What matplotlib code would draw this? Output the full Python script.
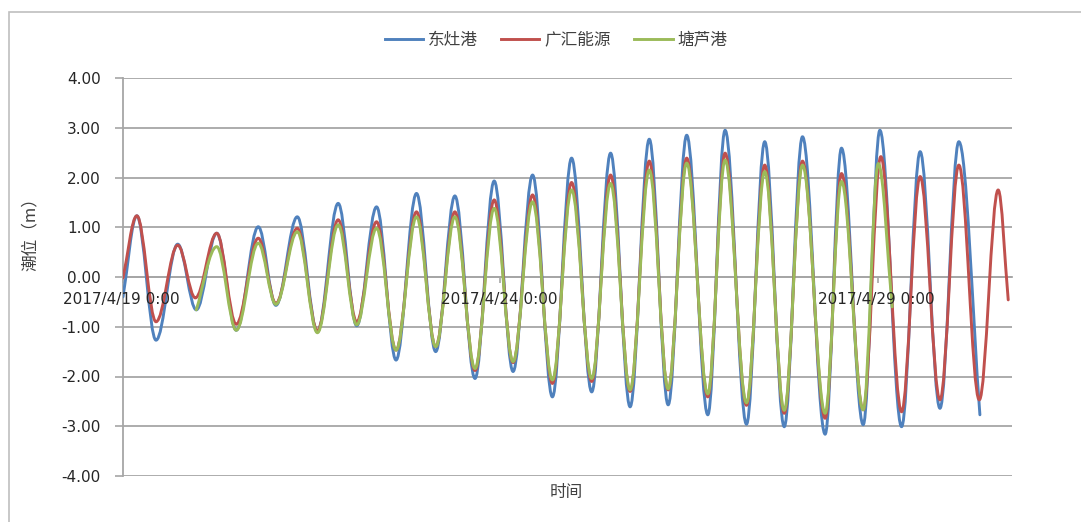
import matplotlib
matplotlib.use("Agg")
import matplotlib.pyplot as plt
from matplotlib.path import Path
from matplotlib.patches import PathPatch, Rectangle
from matplotlib.lines import Line2D
from matplotlib.font_manager import FontProperties

plt.rcParams['font.family'] = ['DejaVu Sans', 'Noto Sans CJK SC']
plt.rcParams['axes.unicode_minus'] = False

# ---------------- data (hours since 2017/4/19 0:00, tide level in m) -------------
series_names = ["东灶港", "广汇能源", "塘芦港"]

# 东灶港 : turning points (high / low water)
dz_t = [0.0, 4.4, 10.5, 17.4, 23.3, 29.8, 36.0, 43.0, 48.6, 55.4, 61.8, 68.4, 74.3,
        80.6, 86.8, 93.3, 99.4, 105.5, 111.9, 118.0, 124.0, 130.2, 136.5, 142.6,
        149.0, 155.0, 161.2, 167.3, 173.3, 179.2, 185.9, 191.4, 198.2, 204.0,
        210.2, 216.0, 223.2, 228.4, 235.3, 240.6, 247.5, 253.4, 259.7, 265.7, 272.4]
dz_v = [-0.40, 1.23, -1.27, 0.66, -0.66, 0.88, -1.07, 1.01, -0.57, 1.21, -1.10, 1.48,
        -0.98, 1.41, -1.67, 1.68, -1.50, 1.63, -2.04, 1.93, -1.90, 2.05, -2.41, 2.39,
        -2.31, 2.49, -2.61, 2.77, -2.57, 2.85, -2.77, 2.95, -2.96, 2.72, -3.01, 2.82,
        -3.16, 2.59, -2.97, 2.95, -3.01, 2.52, -2.64, 2.72, -2.77]

# 广汇能源
gh_t = [0.0, 4.4, 10.5, 17.4, 23.0, 29.8, 36.0, 43.0, 48.6, 55.4, 61.8, 68.4, 74.3,
        80.6, 86.8, 93.3, 99.4, 105.5, 111.9, 118.0, 124.0, 130.2, 136.5, 142.6,
        149.0, 155.0, 161.2, 167.3, 173.3, 179.2, 185.9, 191.4, 198.2, 204.0,
        210.2, 216.0, 223.2, 228.4, 235.3, 240.9, 247.5, 253.4, 259.7, 265.7,
        272.2, 278.2, 281.4]
gh_v = [-0.02, 1.23, -0.90, 0.64, -0.42, 0.88, -0.95, 0.78, -0.53, 0.98, -1.08, 1.15,
        -0.90, 1.11, -1.47, 1.31, -1.40, 1.31, -1.88, 1.55, -1.72, 1.65, -2.14, 1.90,
        -2.10, 2.05, -2.30, 2.33, -2.27, 2.39, -2.41, 2.49, -2.58, 2.25, -2.74, 2.33,
        -2.84, 2.08, -2.67, 2.42, -2.71, 2.02, -2.47, 2.25, -2.47, 1.75, -0.46]

# 塘芦港
tl_t = [23.3, 29.8, 36.0, 43.0, 48.6, 55.4, 61.8, 68.4, 74.3, 80.6, 86.8, 93.3, 99.4,
        105.5, 111.9, 118.0, 124.0, 130.2, 136.5, 142.6, 149.0, 155.0, 161.2, 167.3,
        173.3, 179.2, 185.9, 191.4, 198.2, 204.0, 210.2, 216.0, 223.2, 228.4, 235.3,
        240.1, 244.5]
tl_v = [-0.66, 0.61, -1.07, 0.68, -0.55, 0.91, -1.12, 1.05, -0.96, 0.98, -1.47, 1.21,
        -1.40, 1.21, -1.84, 1.38, -1.70, 1.51, -2.07, 1.75, -2.04, 1.88, -2.27, 2.15,
        -2.25, 2.29, -2.35, 2.35, -2.53, 2.12, -2.68, 2.25, -2.74, 1.92, -2.67, 2.28,
        -0.60]

x_tick_pos = [0, 120, 240]
x_tick_labels = ["2017/4/19 0:00", "2017/4/24 0:00", "2017/4/29 0:00"]
y_ticks = [-4, -3, -2, -1, 0, 1, 2, 3, 4]
y_tick_labels = ["-4.00", "-3.00", "-2.00", "-1.00", "0.00", "1.00", "2.00", "3.00", "4.00"]

colors = ["#4F81BD", "#C0504D", "#9BBB59"]
GRID = "#A6A6A6"
K = 0.36


def smooth_path(t, v):
    """Smooth line through the turning points (horizontal tangent at each extreme)."""
    verts = [(t[0], v[0])]
    codes = [Path.MOVETO]
    n = len(t)
    for i in range(n - 1):
        dt = t[i + 1] - t[i]
        dv = v[i + 1] - v[i]
        c1 = (t[i] + dt / 3, v[i] + dv / 3) if i == 0 else (t[i] + K * dt, v[i])
        c2 = (t[i + 1] - dt / 3, v[i + 1] - dv / 3) if i == n - 2 else (t[i + 1] - K * dt, v[i + 1])
        verts += [c1, c2, (t[i + 1], v[i + 1])]
        codes += [Path.CURVE4] * 3
    return Path(verts, codes)


fig = plt.figure(figsize=(10.81, 5.22), dpi=100)
W, H = 1081, 522
ax = fig.add_axes([123 / W, 1 - 476 / H, (1012 - 123) / W, (476 - 78) / H])

# outer chart frame
fig.patches.append(Rectangle((9 / W, -0.05), 1.2, 1 - 12 / H + 0.05, transform=fig.transFigure,
                             fill=False, edgecolor="#BFBFBF", lw=1.2))

for (t, v), c in zip([(dz_t, dz_v), (gh_t, gh_v), (tl_t, tl_v)], colors):
    ax.add_patch(PathPatch(smooth_path(t, v), facecolor="none", edgecolor=c, lw=2.1,
                           joinstyle="round", capstyle="round", zorder=3))

ax.set_xlim(0, 282.6)
ax.set_ylim(-4, 4)
ax.set_yticks(y_ticks)
ax.set_yticklabels(y_tick_labels)
ax.set_xticks(x_tick_pos)
ax.set_xticklabels([])

# category labels drawn on top of the series, just under the zero line
for pos, lab in zip(x_tick_pos, x_tick_labels):
    ax.annotate(lab, xy=(pos, 0), xytext=(-1, -16.5), textcoords="offset points",
                ha="center", va="center", fontsize=11, color="#262626", zorder=6,
                annotation_clip=False)

ax.grid(axis="y", color=GRID, lw=1.3)
ax.set_axisbelow(True)
for s in ["top", "right"]:
    ax.spines[s].set_visible(False)
ax.spines["left"].set_color(GRID)
ax.spines["left"].set_linewidth(1.3)
ax.spines["bottom"].set_position(("data", 0))
ax.spines["bottom"].set_color(GRID)
ax.spines["bottom"].set_linewidth(1.3)

ax.tick_params(axis="y", direction="out", length=6, width=1.2, color=GRID, pad=10,
               labelsize=11, labelcolor="#262626")
ax.tick_params(axis="x", direction="out", length=4, width=1.2, color=GRID)

cjk = FontProperties(family="Noto Sans CJK SC", size=12)
fig.text(30 / W, 1 - 230 / H, "潮位（m）", rotation=90, ha="center", va="center",
         fontproperties=cjk, color="#404040")
fig.text(566 / W, 1 - 493 / H, "时间", ha="center", va="center",
         fontproperties=cjk, color="#404040")

handles = [Line2D([], [], color=c, lw=2.1) for c in colors]
fig.legend(handles, series_names, loc="center", bbox_to_anchor=(556 / W, 1 - 40 / H),
           ncol=3, frameon=False, prop=cjk, handlelength=2.3, handletextpad=0.3,
           columnspacing=1.4, labelcolor="#404040")

fig.savefig("out.png", dpi=100)
